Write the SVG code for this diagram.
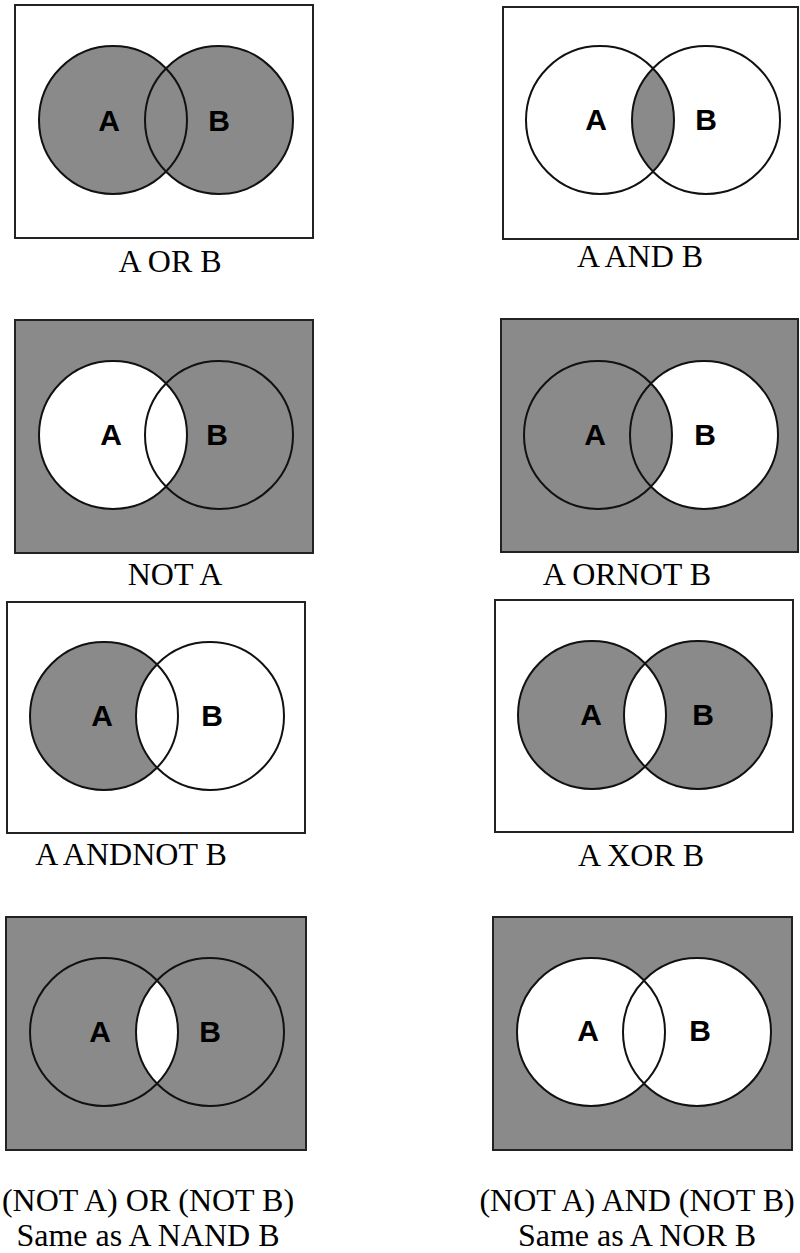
<svg xmlns="http://www.w3.org/2000/svg" width="800" height="1253" viewBox="0 0 800 1253">
<style>
.frame{stroke:#222;stroke-width:2}
.w{fill:#fff}
.g{fill:#8a8a8a}
.ring{fill:none;stroke:#111;stroke-width:2}
.lbl{font-family:'Liberation Sans',Arial,sans-serif;font-weight:bold;font-size:30px;text-anchor:middle;fill:#000}
.cap{font-family:'Liberation Serif','Times New Roman',serif;font-size:32px;text-anchor:middle;fill:#000}
</style>
<defs>
<clipPath id="clipA" clipPathUnits="userSpaceOnUse"><circle cx="0" cy="0" r="74"/></clipPath>
<circle id="cA" cx="0" cy="0" r="74"/>
<circle id="cB" cx="106" cy="0" r="74"/>
</defs>
<rect width="800" height="1253" fill="#fff"/>

<g id="or">
<rect class="frame w" x="15" y="5" width="298" height="233"/>
<g transform="translate(113,120)">
<use href="#cA" class="g"/><use href="#cB" class="g"/>
<use href="#cA" class="ring"/><use href="#cB" class="ring"/>
<text class="lbl" x="-4" y="11">A</text><text class="lbl" x="106" y="11">B</text>
</g>
<text class="cap" x="170" y="272">A OR B</text>
</g>

<g id="and">
<rect class="frame w" x="503" y="7" width="295" height="232"/>
<g transform="translate(600,120)">
<use href="#cB" class="g" clip-path="url(#clipA)"/>
<use href="#cA" class="ring"/><use href="#cB" class="ring"/>
<text class="lbl" x="-4" y="10">A</text><text class="lbl" x="106" y="10">B</text>
</g>
<text class="cap" x="640" y="267">A AND B</text>
</g>

<g id="nota">
<rect class="frame g" x="15" y="320" width="298" height="233"/>
<g transform="translate(113,435)">
<use href="#cA" class="w"/>
<use href="#cA" class="ring"/><use href="#cB" class="ring"/>
<text class="lbl" x="-2" y="10">A</text><text class="lbl" x="104" y="10">B</text>
</g>
<text class="cap" x="175" y="585">NOT A</text>
</g>

<g id="ornot">
<rect class="frame g" x="501" y="319" width="297" height="233"/>
<g transform="translate(598,435)">
<use href="#cB" class="w"/>
<use href="#cB" class="g" clip-path="url(#clipA)"/>
<use href="#cA" class="ring"/><use href="#cB" class="ring"/>
<text class="lbl" x="-3" y="10">A</text><text class="lbl" x="107" y="10">B</text>
</g>
<text class="cap" x="627" y="585">A ORNOT B</text>
</g>

<g id="andnot">
<rect class="frame w" x="7" y="602" width="298" height="231"/>
<g transform="translate(104,716)">
<use href="#cA" class="g"/><use href="#cB" class="w"/>
<use href="#cA" class="ring"/><use href="#cB" class="ring"/>
<text class="lbl" x="-2" y="10">A</text><text class="lbl" x="108" y="10">B</text>
</g>
<text class="cap" x="131" y="865">A ANDNOT B</text>
</g>

<g id="xor">
<rect class="frame w" x="495" y="600" width="298" height="232"/>
<g transform="translate(592,715)">
<use href="#cA" class="g"/><use href="#cB" class="g"/>
<use href="#cB" class="w" clip-path="url(#clipA)"/>
<use href="#cA" class="ring"/><use href="#cB" class="ring"/>
<text class="lbl" x="-1" y="10">A</text><text class="lbl" x="111" y="10">B</text>
</g>
<text class="cap" x="641" y="866">A XOR B</text>
</g>

<g id="nand">
<rect class="frame g" x="6" y="917" width="300" height="233"/>
<g transform="translate(104,1032)">
<use href="#cB" class="w" clip-path="url(#clipA)"/>
<use href="#cA" class="ring"/><use href="#cB" class="ring"/>
<text class="lbl" x="-4" y="10">A</text><text class="lbl" x="106" y="10">B</text>
</g>
<text class="cap" x="148" y="1211">(NOT A) OR (NOT B)</text>
<text class="cap" x="148" y="1246">Same as A NAND B</text>
</g>

<g id="nor">
<rect class="frame g" x="493" y="917" width="299" height="233"/>
<g transform="translate(591,1032)">
<use href="#cA" class="w"/><use href="#cB" class="w"/>
<use href="#cA" class="ring"/><use href="#cB" class="ring"/>
<text class="lbl" x="-3" y="9">A</text><text class="lbl" x="109" y="9">B</text>
</g>
<text class="cap" x="637" y="1211">(NOT A) AND (NOT B)</text>
<text class="cap" x="637" y="1246">Same as A NOR B</text>
</g>
</svg>
